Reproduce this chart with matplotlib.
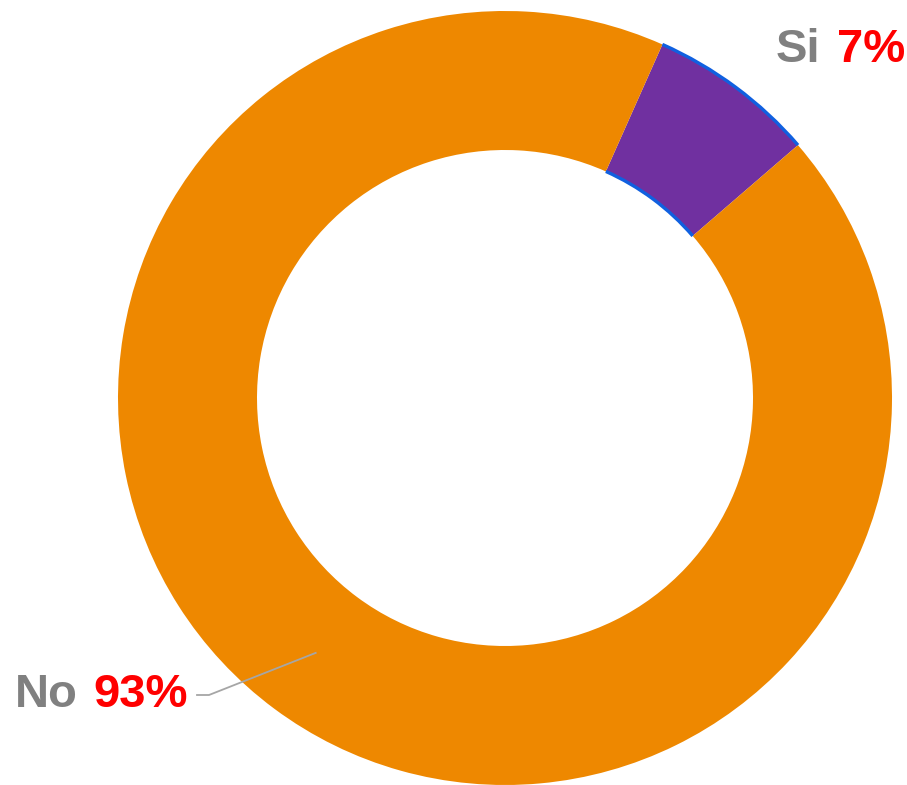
import matplotlib.pyplot as plt
from matplotlib.patches import Arc
import numpy as np

labels = ['Si', 'No']
values = [7, 93]
pcts = ['7%', '93%']
colors = ['#7030A0', '#EE8800']

W, H = 907, 785
fig = plt.figure(figsize=(W/100, H/100), dpi=100)
ax = fig.add_axes([0, 0, 1, 1])

cx, cy = 505, H - 398
r_out, r_in = 387, 248

wedges, _ = ax.pie(values, colors=colors, startangle=66, counterclock=False,
                   center=(cx, cy), radius=r_out,
                   wedgeprops=dict(width=r_out - r_in, linewidth=0))
ax.set_xlim(0, W)
ax.set_ylim(0, H)
ax.set_aspect('equal')
ax.axis('off')

# thin blue arcs on the small slice
w = wedges[0]
for r in (r_out, r_in):
    ax.add_patch(Arc((cx, cy), 2*r, 2*r, theta1=w.theta1, theta2=w.theta2,
                     color='#1060E0', lw=2.4, zorder=3))

fs = 34
font = ['Liberation Sans', 'DejaVu Sans']

def two_tone(x, y, name, pct):
    # percent in red, right aligned at x; name in grey just left of it
    t = ax.text(x, y, pct, ha='right', va='center', fontsize=fs,
                fontweight='bold', color='#FF0000', family=font)
    fig.canvas.draw()
    bb = t.get_window_extent()
    xd = ax.transData.inverted().transform((bb.x0 - 16, 0))[0]
    ax.text(xd, y, name, ha='right', va='center', fontsize=fs,
            fontweight='bold', color='#808080', family=font)

# Si label (top right)
two_tone(905, H - 50, labels[0], pcts[0])

# No label with leader line from middle of the ring
w = wedges[1]
mid = np.deg2rad((w.theta1 + w.theta2) / 2)
rm = (r_out + r_in) / 2
px, py = cx + rm*np.cos(mid), cy + rm*np.sin(mid)
ax.plot([px, 209, 197], [py, H - 695, H - 695], color='#A6A6A6', lw=1.3,
        zorder=4)
two_tone(188, H - 695, labels[1], pcts[1])

fig.savefig('out.png', dpi=100)
